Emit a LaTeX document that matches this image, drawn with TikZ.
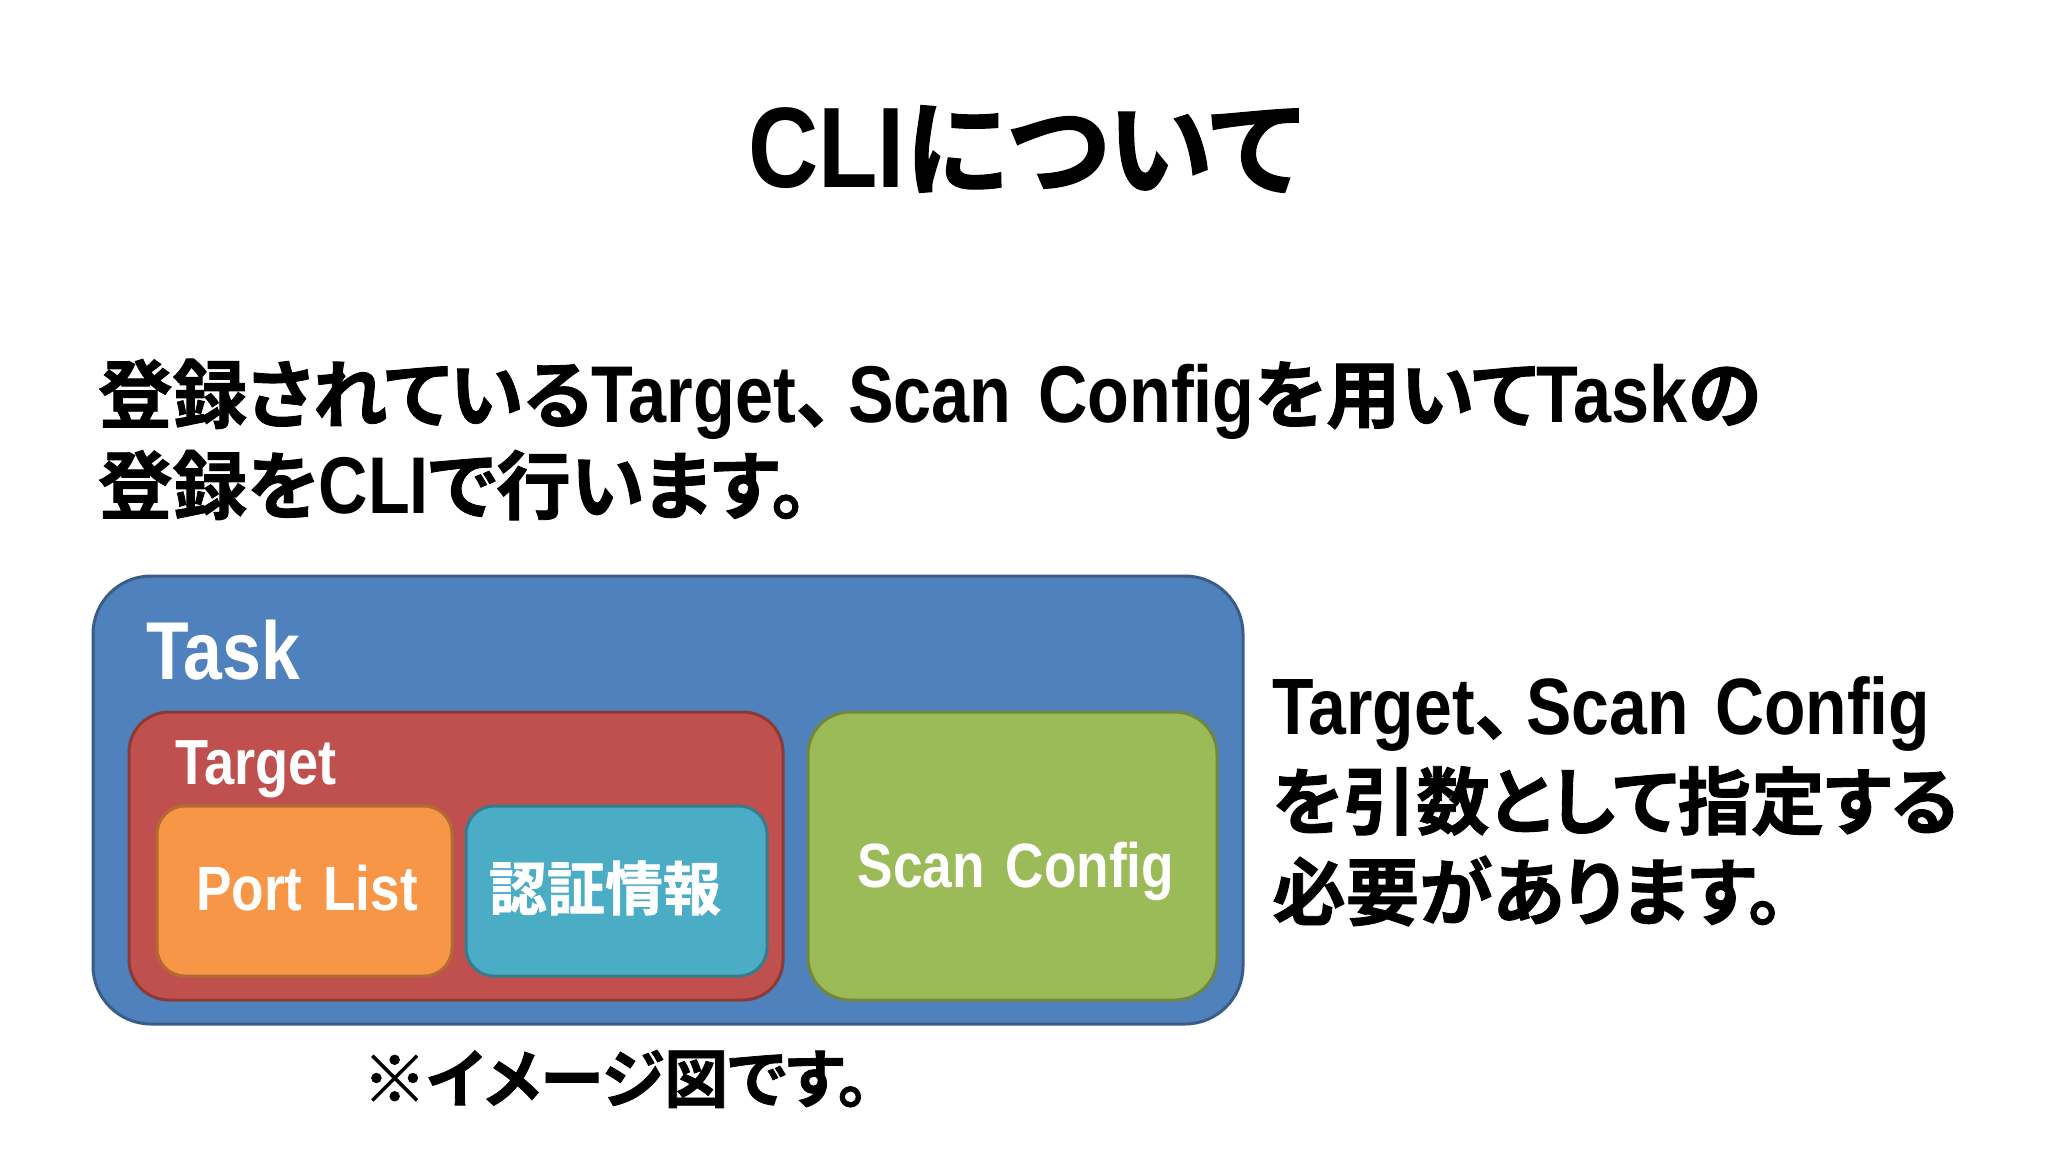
\documentclass[tikz,border=0pt]{standalone}
\usepackage{fontspec}
\usepackage{xcolor}
\usepackage{tikz}
\usetikzlibrary{positioning}
\setmainfont{Noto Sans CJK JP}[BoldFont={* Bold}, BoldFeatures={FakeBold=1.2}, RawFeature=+palt]
\newfontfamily\latfont{Liberation Sans}[Scale=1.08, FakeStretch=0.85, WordSpace=1.4, BoldFeatures={FakeStretch=0.85}]
\newcommand{\lat}[1]{{\latfont\bfseries #1}}
\newcommand{\tou}{、\kern.2em}
\definecolor{myblue}{RGB}{79, 129, 189}
\definecolor{myred}{RGB}{192, 80, 77}
\definecolor{mygreen}{RGB}{155, 187, 89}
\definecolor{myorange}{RGB}{247, 150, 70}
\definecolor{myaqua}{RGB}{75, 172, 198}
\tikzset{
    box/.style={draw=#1!72!black, fill=#1, line width=3pt},
    txt/.style={font=\bfseries, anchor=west, inner sep=0pt, black},
    boxtxt/.style={font=\bfseries, inner sep=0pt, white}
}
\begin{document}
\begin{tikzpicture}[x=1pt, y=-1pt]
    \useasboundingbox (0,0) rectangle (2048,1152);
    % 見出し
    \node[txt, anchor=center, font=\bfseries\fontsize{106}{106}\selectfont] (title) at (1025,149) {\lat{CLI}について};
    \node[txt, font=\bfseries\fontsize{74.5}{74.5}\selectfont] (line1) at (98,399) {登録されている\lat{Target}\tou\lat{Scan Config}を用いて\lat{Task}の};
    \node[txt, font=\bfseries\fontsize{74.5}{74.5}\selectfont] (line2) at (98,485) {登録を\lat{CLI}で行います。};

    % 箱
    \draw[box=myblue, rounded corners=58pt] (93,576) rectangle (1243,1024);
    \draw[box=myred, rounded corners=40pt] (129,712) rectangle (783,1000);
    \draw[box=mygreen, rounded corners=42pt] (808,712) rectangle (1217,1000);
    \draw[box=myorange, rounded corners=28pt] (157,806) rectangle (452,976);
    \draw[box=myaqua, rounded corners=28pt] (466,806) rectangle (767,976);

    % ラベル
    \node[boxtxt, font=\bfseries\fontsize{76}{76}\selectfont] (task) at (223,650) {\lat{Task}};
    \node[boxtxt, font=\bfseries\fontsize{59}{59}\selectfont] (target) at (256,769) {\lat{Target}};
    \node[boxtxt, font=\bfseries\fontsize{58}{58}\selectfont] (port) at (307,888) {\lat{Port List}};
    \node[boxtxt, font=\bfseries\fontsize{58}{58}\selectfont] (auth) at (605,888) {認証情報};
    \node[boxtxt, font=\bfseries\fontsize{58}{58}\selectfont] (scan) at (1016,871) {\lat{Scan Config}};

    % 右側の説明
    \node[txt, font=\bfseries\fontsize{74}{74}\selectfont] (note1) at (1272,714) {\lat{Target}\tou\lat{Scan Config}};
    \node[txt, font=\bfseries\fontsize{73.5}{73.5}\selectfont] (note2) at (1272,801) {を引数として指定する};
    \node[txt, font=\bfseries\fontsize{73.5}{73.5}\selectfont] (note3) at (1272,891) {必要があります。};
    \node[txt, anchor=center, font=\bfseries\fontsize{64}{64}\selectfont] (memo) at (616,1079) {※イメージ図です。};
\end{tikzpicture}
\end{document}
